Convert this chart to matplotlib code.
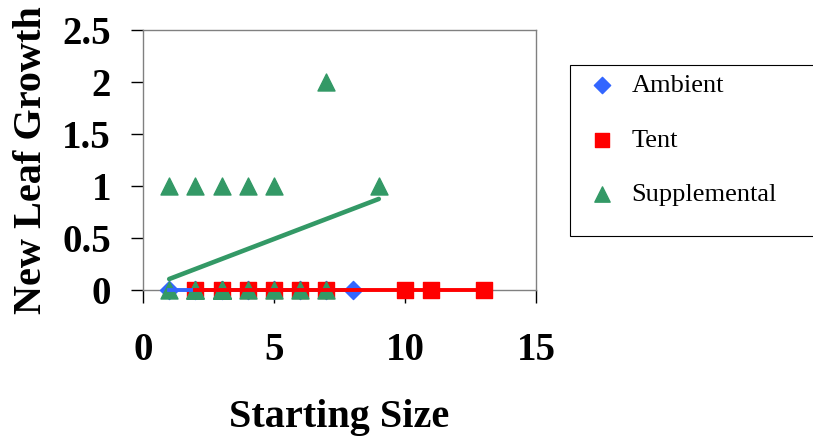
import numpy as np
import matplotlib
matplotlib.use("Agg")
import matplotlib.pyplot as plt
from matplotlib.patches import Rectangle

plt.rcParams['font.family'] = ['Liberation Serif', 'DejaVu Serif']

# Data (zero-growth plants overlap one another)
ambient_x = [1, 2, 3, 4, 5, 6, 7, 8]
ambient_y = [0, 0, 0, 0, 0, 0, 0, 0]

tent_x = [2, 3, 4, 5, 6, 7, 10, 11, 13]
tent_y = [0, 0, 0, 0, 0, 0, 0, 0, 0]

supp_x = [1, 2, 3, 4, 5, 9, 7,
          1, 2, 3, 4, 5, 6, 7,
          2, 2, 3, 3, 3, 3, 3, 3]
supp_y = [1, 1, 1, 1, 1, 1, 2,
          0, 0, 0, 0, 0, 0, 0,
          0, 0, 0, 0, 0, 0, 0, 0]

x_ticks = [0, 5, 10, 15]
y_ticks = [0, 0.5, 1, 1.5, 2, 2.5]
y_tick_labels = ['0', '0.5', '1', '1.5', '2', '2.5']

blue = '#3366FF'
red = '#FF0000'
green = '#339966'


def trend(x, y):
    # linear fit drawn over the span of the data, like a spreadsheet trendline
    k, b = np.polyfit(x, y, 1)
    xs = np.array([min(x), max(x)])
    return xs, k * xs + b


fig = plt.figure(figsize=(8.13, 4.37), dpi=100)
ax = fig.add_axes([143 / 813, 1 - 290 / 437, 393 / 813, 260 / 437])

ax.scatter(ambient_x, ambient_y, marker='D', s=85, color=blue, zorder=3, label='Ambient', clip_on=False)
ax.scatter(tent_x, tent_y, marker='s', s=120, color=red, zorder=4, label='Tent', clip_on=False)
ax.scatter(supp_x, supp_y, marker='^', s=150, color=green, zorder=5, label='Supplemental', clip_on=False)

tx, ty = trend(ambient_x, ambient_y)
ax.plot(tx, ty, color=blue, lw=2.8, zorder=6, clip_on=False)
tx, ty = trend(tent_x, tent_y)
ax.plot(tx, ty, color=red, lw=2.8, zorder=7, clip_on=False)
tx, ty = trend(supp_x, supp_y)
ax.plot(tx, ty, color=green, lw=3.3, zorder=8, solid_capstyle='round', clip_on=False)

ax.set_xlim(0, 15)
ax.set_ylim(0, 2.5)
ax.set_xticks(x_ticks)
ax.set_yticks(y_ticks)
ax.set_yticklabels(y_tick_labels)
for s in ax.spines.values():
    s.set_color('#808080')
    s.set_linewidth(1)
ax.tick_params(direction='out', length=9, width=1, color='black', labelsize=28)
ax.tick_params(axis='x', pad=21)
ax.tick_params(axis='y', pad=14)
for lab in ax.get_xticklabels() + ax.get_yticklabels():
    lab.set_fontweight('bold')

ax.set_xlabel('Starting Size', fontsize=29, fontweight='bold', labelpad=22)
ax.set_ylabel('New Leaf Growth', fontsize=29, fontweight='bold', labelpad=9)

# legend box drawn separately so it can run off the right edge like the original
fig.patches.append(Rectangle((570 / 813, 1 - 236 / 437), 0.4, 171 / 437, transform=fig.transFigure,
                             facecolor='white', edgecolor='black', lw=0.8))
leg = fig.legend(loc='upper left', bbox_to_anchor=(577 / 813, 1 - 62 / 437),
                 fontsize=19, frameon=False, borderpad=0.45, labelspacing=1.17,
                 handlelength=1.0, handletextpad=0.62, borderaxespad=0,
                 scatterpoints=1, markerscale=0.9)

fig.savefig('out.png', dpi=100)
